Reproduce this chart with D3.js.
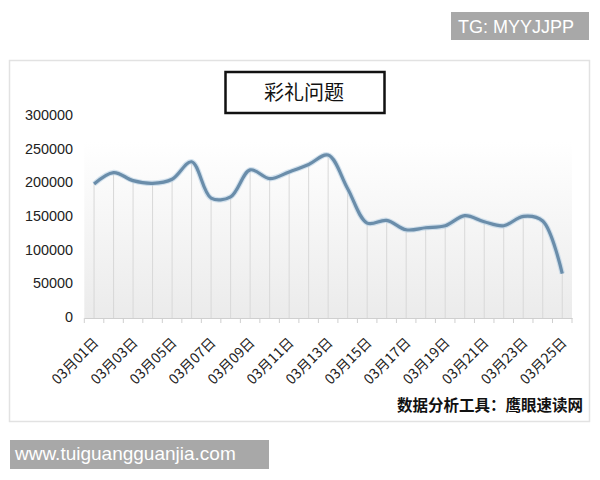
<!DOCTYPE html>
<html><head><meta charset="utf-8">
<script src="https://cdn.jsdelivr.net/npm/d3@7/dist/d3.min.js"></script>
<style>body{margin:0;background:#fff;}svg{display:block;}</style>
</head><body>
<svg id="c" width="600" height="480"></svg>
<script>
const categories = ["03月01日","03月02日","03月03日","03月04日","03月05日","03月06日","03月07日","03月08日","03月09日","03月10日","03月11日","03月12日","03月13日","03月14日","03月15日","03月16日","03月17日","03月18日","03月19日","03月20日","03月21日","03月22日","03月23日","03月24日","03月25日"];
const values = [199000,216000,204000,200000,206000,232000,178000,180000,220000,207000,217000,228000,242000,192000,141000,145000,131000,134000,137000,152000,143000,137000,151000,144000,66000];
const yTicks = [0,50000,100000,150000,200000,250000,300000];
const title = "彩礼问题";
const sourceText = "数据分析工具：鹰眼速读网";

const svg = d3.select("#c");
const sans = "'Liberation Sans', Arial, 'Noto Sans CJK SC', sans-serif";
const cjk = "'Noto Sans CJK SC', sans-serif";

// outer frame
svg.append("rect").attr("x",9.5).attr("y",60.5).attr("width",580).attr("height",361)
  .attr("fill","#fff").attr("stroke","#e2e2e2").attr("stroke-width",1.5);

// TG badge
svg.append("rect").attr("x",451).attr("y",12).attr("width",138).attr("height",28).attr("fill","#a8a8a8");
svg.append("text").attr("x",458).attr("y",33).attr("fill","#fff")
  .style("font-family",sans).style("font-size","18px").text("TG: MYYJJPP");

// bottom badge
svg.append("rect").attr("x",10).attr("y",440).attr("width",259).attr("height",29).attr("fill","#a8a8a8");
svg.append("text").attr("x",15).attr("y",460).attr("fill","#fff")
  .style("font-family",sans).style("font-size","19px").text("www.tuiguangguanjia.com");

const pLeft=84.3, pRight=572, pTop=116, pBottom=318;
const x = d3.scaleBand().domain(categories).range([pLeft,pRight]).padding(0);
const y = d3.scaleLinear().domain([0,300000]).range([pBottom,pTop]);

// plot area gradient
const defs = svg.append("defs");
const g = defs.append("linearGradient").attr("id","bg").attr("x1",0).attr("y1",0).attr("x2",0).attr("y2",1);
g.append("stop").attr("offset","0%").attr("stop-color","#ffffff");
g.append("stop").attr("offset","100%").attr("stop-color","#ebebeb");
svg.append("rect").attr("x",pLeft).attr("y",y(262000)).attr("width",pRight-pLeft).attr("height",pBottom-y(262000))
  .attr("fill","url(#bg)");

// drop lines
svg.append("g").selectAll("line").data(values).join("line")
  .attr("x1",(d,i)=>x(categories[i])+x.bandwidth()/2).attr("x2",(d,i)=>x(categories[i])+x.bandwidth()/2)
  .attr("y1",d=>y(d)).attr("y2",pBottom).attr("stroke","#d8d8d8").attr("stroke-width",1);

// y axis labels
svg.append("g").selectAll("text").data(yTicks).join("text")
  .attr("x",73).attr("y",d=>y(d)+4).attr("text-anchor","end").attr("fill","#222")
  .style("font-family",sans).style("font-size","14.4px").text(d=>d);

// x axis
const xAxis = d3.axisBottom(x).tickSize(0).tickFormat("");
const ax = svg.append("g").attr("transform",`translate(0,${pBottom})`).call(xAxis);
ax.select(".domain").attr("stroke","#cfcfcf");
const bounds = categories.map(c=>x(c)).concat([pRight]);
svg.append("g").selectAll("line").data(bounds).join("line")
  .attr("x1",d=>d).attr("x2",d=>d).attr("y1",pBottom).attr("y2",pBottom+5).attr("stroke","#cfcfcf");

// x labels (every other)
svg.append("g").selectAll("text").data(categories.filter((c,i)=>i%2===0)).join("text")
  .attr("transform",d=>`translate(${x(d)+x.bandwidth()/2+2},${pBottom+22}) rotate(-45)`)
  .attr("text-anchor","end").attr("dy","0.35em").attr("fill","#222")
  .style("font-family",cjk).style("font-size","14px").text(d=>d);

// line
const line = d3.line().x((d,i)=>x(categories[i])+x.bandwidth()/2).y(d=>y(d)).curve(d3.curveCatmullRom.alpha(0.5));
svg.append("path").datum(values).attr("d",line).attr("fill","none").attr("stroke","#b8d0e4").attr("stroke-width",5.5).attr("opacity",0.6);
svg.append("path").datum(values).attr("d",line).attr("fill","none").attr("stroke","#6a8daa").attr("stroke-width",3.2).attr("stroke-linejoin","round");

// title box
svg.append("rect").attr("x",225.5).attr("y",72).attr("width",159).attr("height",41)
  .attr("fill","#fff").attr("stroke","#111").attr("stroke-width",2.5);
svg.append("text").attr("x",304).attr("y",99.5).attr("text-anchor","middle").attr("fill","#111")
  .style("font-family",cjk).style("font-size","20px").text(title);

// source text
svg.append("text").attr("x",583).attr("y",411).attr("text-anchor","end").attr("fill","#111")
  .style("font-family",cjk).style("font-size","15.5px").style("font-weight","bold").text(sourceText);
</script>
</body></html>
